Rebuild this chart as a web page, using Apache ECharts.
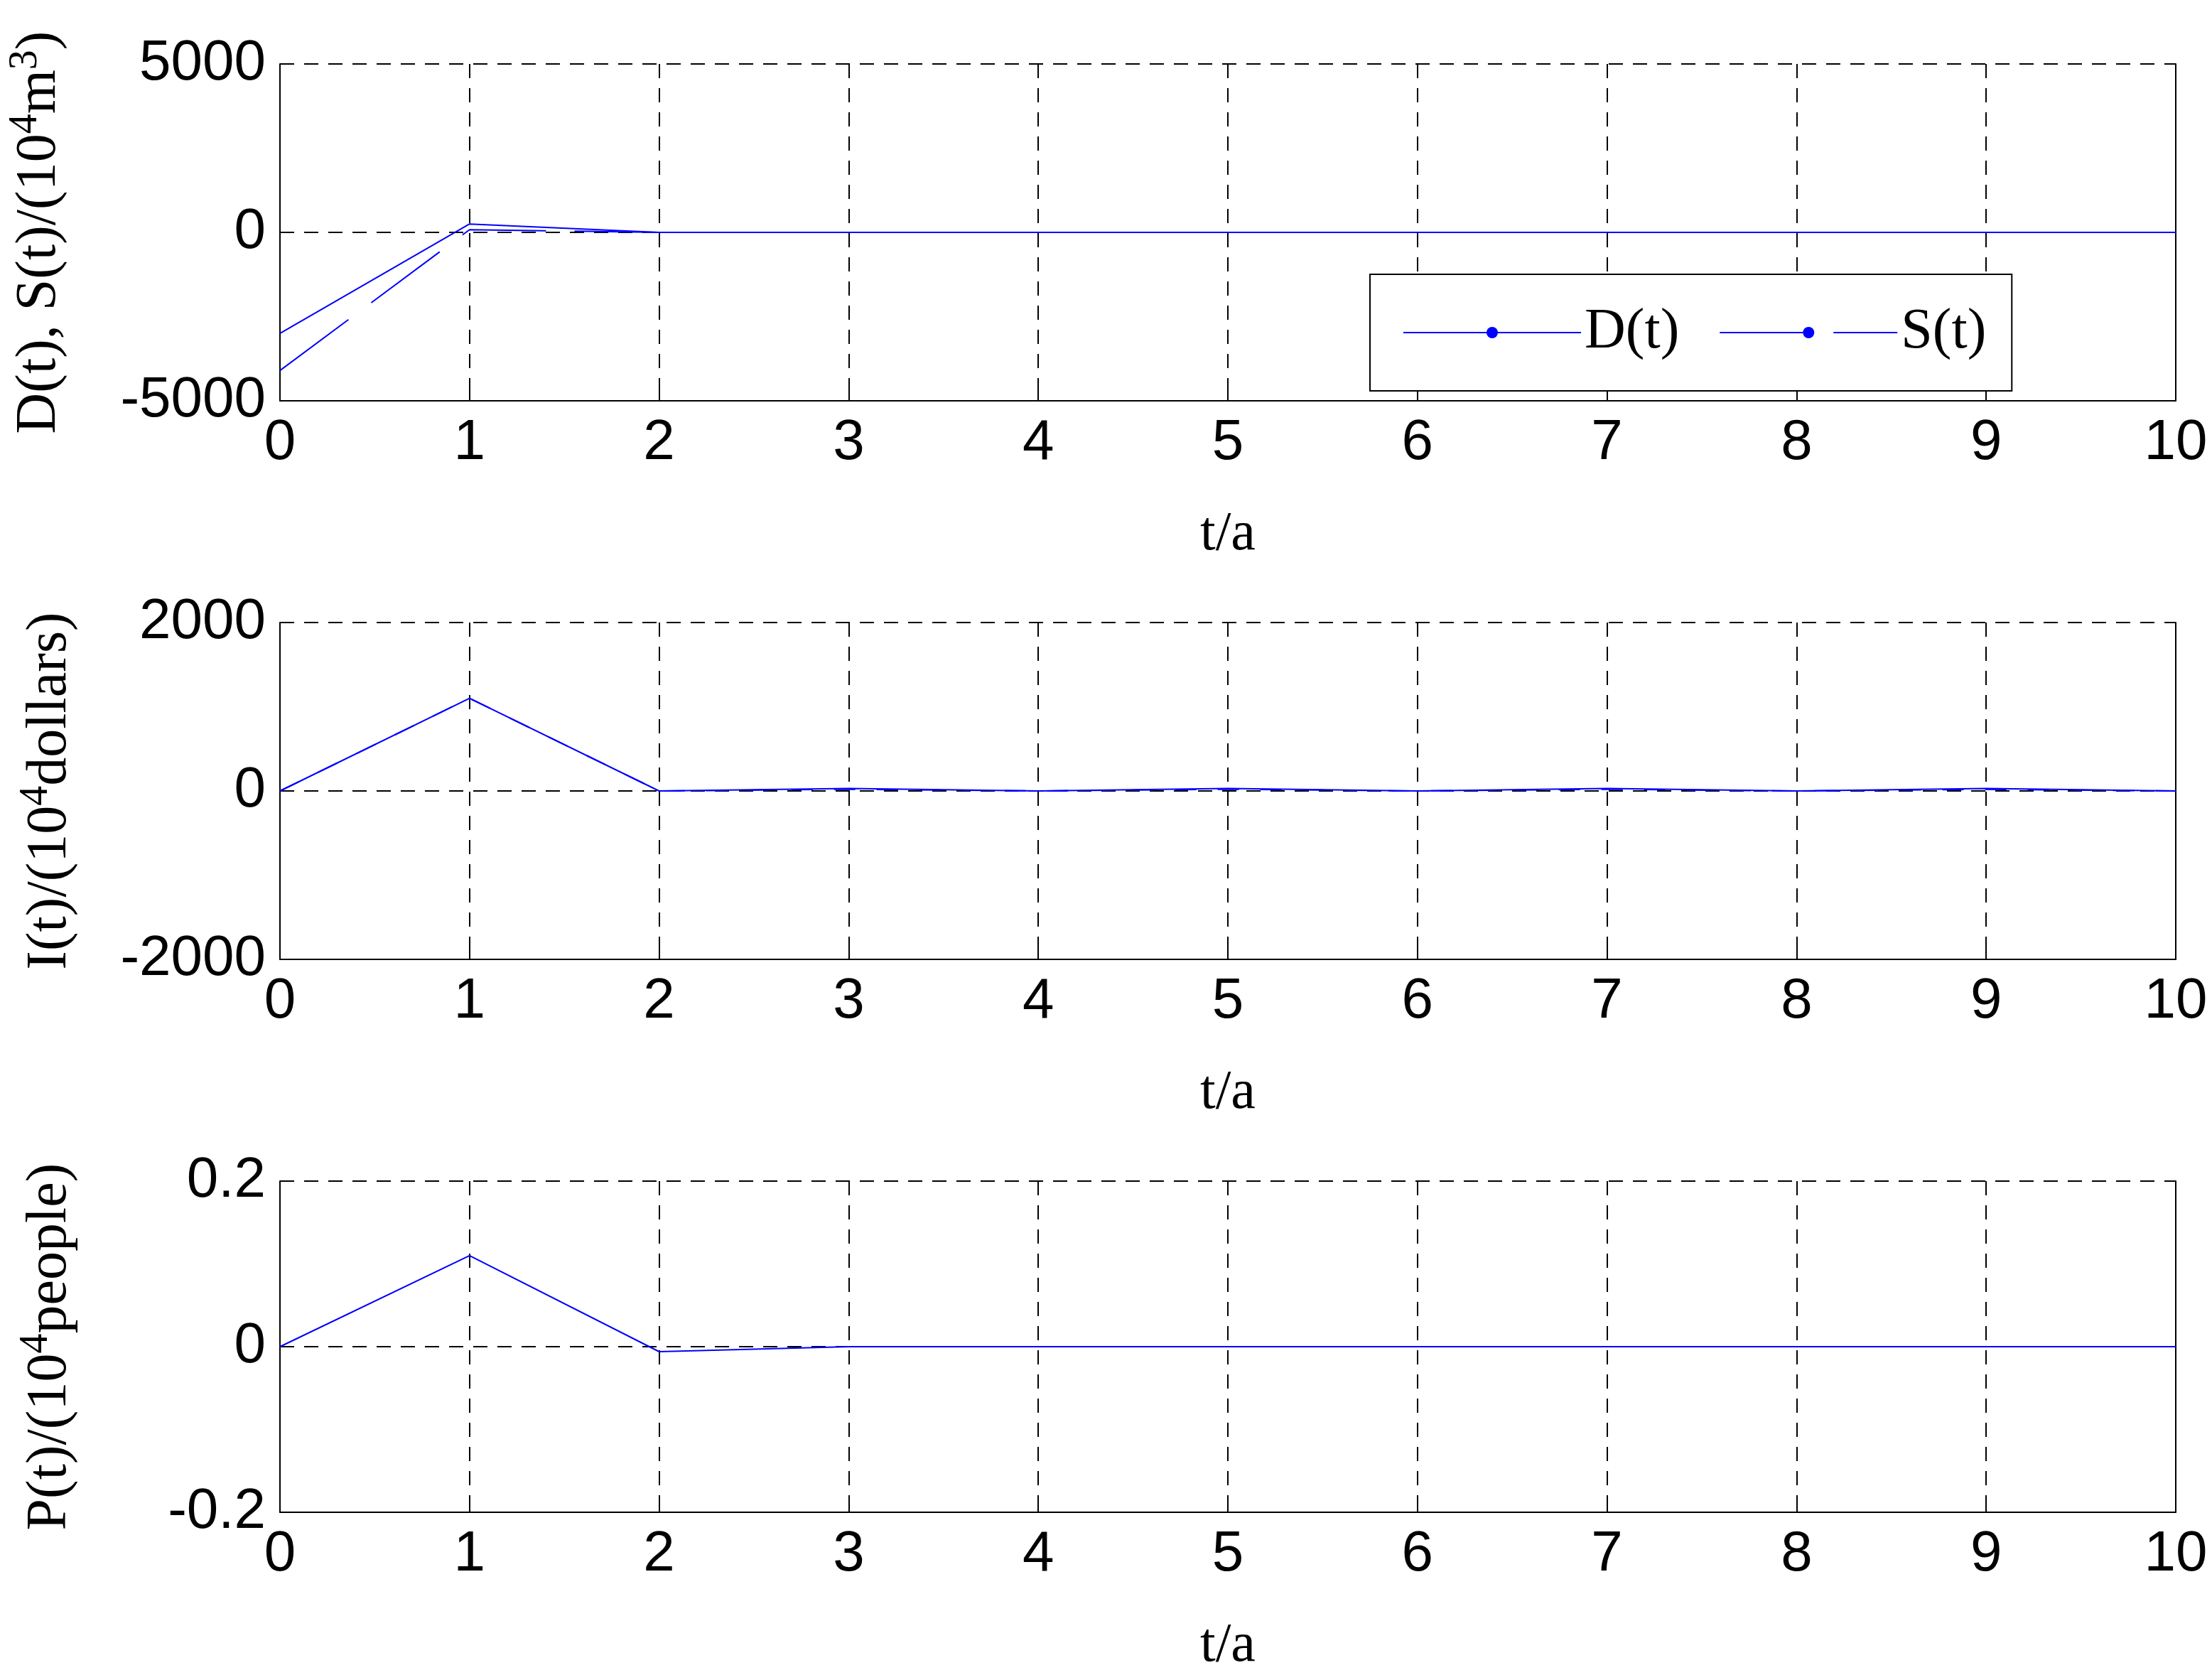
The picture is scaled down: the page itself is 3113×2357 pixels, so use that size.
<!DOCTYPE html>
<html><head><meta charset="utf-8">
<script src="https://cdn.jsdelivr.net/npm/echarts@6/dist/echarts.min.js"></script>
<style>html,body{margin:0;padding:0;background:#fff}#c{width:3113px;height:2357px}</style>
</head><body><div id="c"></div>
<script>
const t = [0,1,2,3,4,5,6,7,8,9,10];
const D = [-3000,250,0,0,0,0,0,0,0,0,0];
const S = [-4100,80,0,0,0,0,0,0,0,0,0];
const I = [0,1100,0,30,0,30,0,30,0,30,0];
const I2 = [0,1100,0,20,0,20,0,20,0,20,0];
const P = [0,0.11,-0.006,0,0,0,0,0,0,0,0];
const xTicks = ['0','1','2','3','4','5','6','7','8','9','10'];
const yRanges = [[-5000,5000,5000],[-2000,2000,2000],[-0.2,0.2,0.2]];
const yNames = ['D(t), S(t)/(10{s|4}m{s|3})','I(t)/(10{s|4}dollars)','P(t)/(10{s|4}people)'];

const tops = [90, 876, 1662];
const H = 474;
const serif = 'Liberation Serif';
const sans = 'Liberation Sans';
const grids = tops.map(tp => ({left:394, width:2668, top:tp, height:H}));
const xAxis = [], yAxis = [];
grids.forEach((g,i)=>{
  xAxis.push({type:'value', gridIndex:i, min:0, max:10, interval:1,
    name:'t/a', nameLocation:'middle', nameGap:150,
    nameTextStyle:{fontFamily:serif, fontSize:78, color:'#000'},
    axisLine:{onZero:false, lineStyle:{color:'#000', width:2}},
    axisTick:{inside:true, length:12, lineStyle:{color:'#000',width:2}},
    axisLabel:{fontFamily:sans, fontSize:80, color:'#000', margin:20, formatter:v=>xTicks[v]},
    splitLine:{show:true, lineStyle:{color:'#000', type:[20,14], width:2}}});
  const r = yRanges[i];
  yAxis.push({type:'value', gridIndex:i, min:r[0], max:r[1], interval:r[2],
    name:yNames[i], nameLocation:'middle', nameGap:i===0?290:275, nameRotate:90,
    nameTextStyle:{fontFamily:serif, fontSize:80, color:'#000',
      rich:{s:{fontFamily:serif, fontSize:56, verticalAlign:'top', padding:[0,0,40,0]}}},
    axisLine:{show:true, onZero:false, lineStyle:{color:'#000', width:2}},
    axisTick:{inside:true, length:12, lineStyle:{color:'#000',width:2}},
    axisLabel:{fontFamily:sans, fontSize:80, color:'#000', margin:20, formatter:v=>String(Math.round(v*10)/10)},
    splitLine:{show:true, lineStyle:{color:'#000', type:[20,14], width:2}}});
  yAxis.push({type:'value', gridIndex:i, position:'right', min:r[0], max:r[1], interval:r[2],
    axisLine:{show:true, onZero:false, lineStyle:{color:'#000', width:2}},
    axisTick:{show:false}, axisLabel:{show:false}, splitLine:{show:false}});
});
const pts = a => t.map((x,k)=>[x,a[k]]);
const blue = '#0000ff';
const series = [
  {name:'D(t)', type:'line', xAxisIndex:0, yAxisIndex:0, data:pts(D), symbol:'none', color:blue, lineStyle:{color:blue, width:2}},
  {name:'S(t)', type:'line', xAxisIndex:0, yAxisIndex:0, data:pts(S), symbol:'none', color:blue, lineStyle:{color:blue, width:2, type:[120,40]}},
  {type:'line', xAxisIndex:1, yAxisIndex:2, data:pts(I), symbol:'none', color:blue, lineStyle:{color:blue, width:2}},
  {type:'line', xAxisIndex:1, yAxisIndex:2, data:pts(I2), symbol:'none', color:blue, lineStyle:{color:blue, width:2, type:[30,30]}},
  {type:'line', xAxisIndex:2, yAxisIndex:4, data:pts(P), symbol:'none', color:blue, lineStyle:{color:blue, width:2}}
];
const chart = echarts.init(document.getElementById('c'));
chart.setOption({
  animation:false, backgroundColor:'#fff',
  grid:grids, xAxis, yAxis, series,
  legend:{data:['D(t)','S(t)'], left:1928, top:386,
    padding:[42,36,42,46], itemGap:56, itemWidth:250, itemHeight:20,
    borderColor:'#000', borderWidth:2, backgroundColor:'#fff',
    textStyle:{fontFamily:serif, fontSize:80, color:'#000'}}
});
</script></body></html>
